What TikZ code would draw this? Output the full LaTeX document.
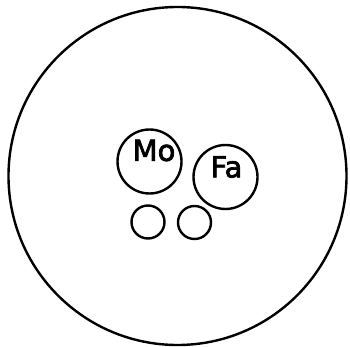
\documentclass[tikz,border=0pt]{standalone}
\usepackage{fontspec}
\setmainfont{DejaVu Sans}
\newfontfamily\lblfont{DejaVu Sans}[FakeBold=2.5]
\begin{document}
\begin{tikzpicture}[x=1pt,y=-1pt,
  ring/.style={draw=black,line width=2.4pt,circle,inner sep=0pt},
  lbl/.style={font=\lblfont\fontsize{29}{29}\selectfont,inner sep=0pt}]
\useasboundingbox (0,0) rectangle (350,347);
\node[ring,minimum size=338pt] (outer) at (177.5,176) {};
\node[ring,minimum size=64pt] (mo) at (149.5,161.5) {};
\node[ring,minimum size=64pt] (fa) at (225.5,177) {};
\node[ring,minimum size=33pt] (s1) at (148,222) {};
\node[ring,minimum size=33pt] (s2) at (194.5,222.5) {};
\node[lbl] (motxt) at (154,150.5) {Mo};
\node[lbl] (fatxt) at (226.5,167) {Fa};
\end{tikzpicture}
\end{document}
